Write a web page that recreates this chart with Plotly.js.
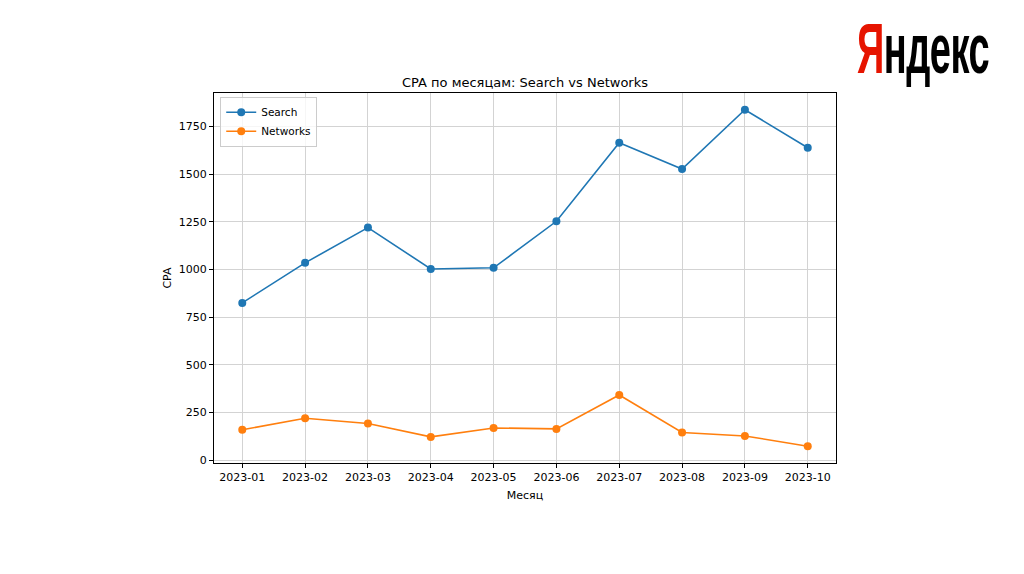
<!DOCTYPE html>
<html>
<head>
<meta charset="utf-8">
<script src="https://cdn.plot.ly/plotly-3.0.1.min.js"></script>
<style>
html,body{margin:0;padding:0;background:#fff;}
#wrap{position:relative;width:1024px;height:574px;overflow:hidden;}
#chart{width:1024px;height:574px;}
#logo{position:absolute;left:857px;top:14px;font-family:"Liberation Sans Narrow","Liberation Sans",Arial,sans-serif;font-weight:bold;font-size:70px;line-height:70px;color:#000;white-space:nowrap;transform-origin:0 0;letter-spacing:-1px;}
#logo .r{color:#e61400;}
</style>
</head>
<body>
<div id="wrap">
<div id="chart"></div>
<div id="logo"><span class="r">Я</span>ндекс</div>
</div>
<script>
const months = ["2023-01","2023-02","2023-03","2023-04","2023-05","2023-06","2023-07","2023-08","2023-09","2023-10"];
const searchCPA = [825, 1035, 1220, 1003, 1009, 1253, 1665, 1527, 1838, 1639];
const networksCPA = [159, 220, 192, 122, 169, 164, 342, 145, 127, 73];
const yTicks = [0, 250, 500, 750, 1000, 1250, 1500, 1750];

const font = "DejaVu Sans, sans-serif";
const traces = [
  {x: months, y: searchCPA, name: "Search", type: "scatter", mode: "lines+markers",
   line: {color: "#1f77b4", width: 1.6}, marker: {color: "#1f77b4", size: 8}},
  {x: months, y: networksCPA, name: "Networks", type: "scatter", mode: "lines+markers",
   line: {color: "#ff7f0e", width: 1.6}, marker: {color: "#ff7f0e", size: 8}}
];
const layout = {
  width: 1024, height: 574,
  paper_bgcolor: "#fff", plot_bgcolor: "#fff",
  margin: {l: 214, r: 188, t: 93, b: 111, pad: 0},
  font: {family: font, size: 11, color: "#000"},
  title: {text: "CPA по месяцам: Search vs Networks", font: {family: font, size: 13, color: "#000"},
          x: 0.5, xanchor: "center", xref: "paper", y: 1, yref: "paper", yanchor: "bottom", pad: {b: 6}},
  xaxis: {type: "category", range: [-0.45, 9.45], showgrid: true, gridcolor: "#d3d3d3", gridwidth: 1,
          showline: true, linecolor: "#000", linewidth: 1, mirror: true,
          ticks: "outside", ticklen: 4, tickcolor: "#000", zeroline: false,
          tickfont: {family: font, size: 11, color: "#000"},
          title: {text: "Месяц", font: {family: font, size: 11, color: "#000"}, standoff: 8}},
  yaxis: {range: [-15, 1926], tickvals: yTicks, showgrid: true, gridcolor: "#d3d3d3", gridwidth: 1,
          showline: true, linecolor: "#000", linewidth: 1, mirror: true,
          ticks: "outside", ticklen: 4, tickcolor: "#000", zeroline: false,
          tickfont: {family: font, size: 11, color: "#000"},
          title: {text: "CPA", font: {family: font, size: 11, color: "#000"}, standoff: 4}},
  showlegend: true,
  legend: {x: 0.01, y: 0.99, xanchor: "left", yanchor: "top", bgcolor: "rgba(255,255,255,0.8)",
           bordercolor: "#cccccc", borderwidth: 1, font: {family: font, size: 10.5, color: "#000"},
           tracegroupgap: 0, itemwidth: 30}
};
Plotly.newPlot("chart", traces, layout, {displayModeBar: false, staticPlot: true});
// fit the logo text into its box in the reference (about 130 px wide)
const logo = document.getElementById("logo");
const w = logo.getBoundingClientRect().width;
logo.style.transform = "scale(" + (132 / w) + ",1)";
</script>
</body>
</html>
